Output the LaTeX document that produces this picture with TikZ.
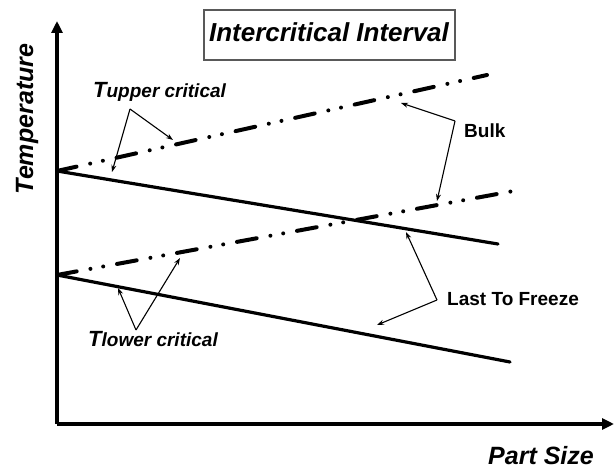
\documentclass[tikz,border=0pt]{standalone}
\usepackage{fontspec}
\setmainfont{Liberation Sans}
\usetikzlibrary{arrows.meta}
\tikzset{
  axisline/.style={line width=3.2pt, -{Triangle[length=12pt,width=11pt]}},
  solidline/.style={line width=3.2pt, line cap=round},
  dashdotline/.style={line width=4pt, line cap=round,
     dash pattern=on 20pt off 14pt on 0pt off 13pt on 0pt off 14pt},
  pointer/.style={line width=1.1pt, -{Stealth[length=7pt,width=5pt]}},
  lbl/.style={font=\bfseries\fontsize{19}{22}\selectfont, inner sep=0pt, anchor=base west},
  itlbl/.style={font=\bfseries\itshape, inner sep=0pt},
}
\begin{document}
\begin{tikzpicture}[x=1pt,y=-1pt]
\useasboundingbox (0,0) rectangle (614,470);
% axes
\coordinate (O) at (57,424);
\coordinate (ytip) at (57,21);
\coordinate (xtip) at (614,424);
\draw[axisline] (O) -- (ytip);
\draw[axisline] (O) -- (xtip);
% line end points
\coordinate (A) at (57,171);
\coordinate (B) at (57,275);
\coordinate (Asolid) at (498,244);
\coordinate (Adash) at (487,75);
\coordinate (Bsolid) at (510,362);
\coordinate (Bdash) at (519,190);
\draw[solidline] (A) -- (Asolid);
\draw[solidline] (B) -- (Bsolid);
\draw[dashdotline] (A) -- (Adash);
\draw[dashdotline] (B) -- (Bdash);
% title
\node[draw=black!65, line width=1.3pt, minimum width=251pt, minimum height=50pt, inner sep=0pt] (titlebox) at (329.5,35) {};
\node[itlbl, anchor=base, font=\bfseries\itshape\fontsize{26}{30}\selectfont] (title) at (329,42) {Intercritical Interval};
% axis labels
\node[itlbl, rotate=90, anchor=base, font=\bfseries\itshape\fontsize{25}{30}\selectfont] (ylabel) at (33,119) {Temperature};
\node[itlbl, anchor=base west, font=\bfseries\itshape\fontsize{25}{30}\selectfont] (xlabel) at (488,465) {Part Size};
% labels
\node[itlbl, anchor=base west] (tupper) at (93,98) {{\fontsize{22}{26}\selectfont T}{\fontsize{19}{22}\selectfont upper critical}};
\node[itlbl, anchor=base west] (tlower) at (88,347) {{\fontsize{22}{26}\selectfont T}{\fontsize{19}{22}\selectfont lower critical}};
\node[lbl] (bulk) at (464,138) {Bulk};
\node[lbl] (ltf) at (447,306) {Last To Freeze};
% pointer arrows
\coordinate (tu) at (130,109);
\coordinate (tu1) at (173,140);
\coordinate (tu2) at (112,172);
\draw[pointer] (tu) -- (tu1);
\draw[pointer] (tu) -- (tu2);
\coordinate (bk) at (455,121);
\coordinate (bk1) at (401,103);
\coordinate (bk2) at (437,201);
\draw[pointer] (bk) -- (bk1);
\draw[pointer] (bk) -- (bk2);
\coordinate (lf) at (437,300);
\coordinate (lf1) at (406,232);
\coordinate (lf2) at (377,325);
\draw[pointer] (lf) -- (lf1);
\draw[pointer] (lf) -- (lf2);
\coordinate (tl) at (136,330);
\coordinate (tl1) at (118,288);
\coordinate (tl2) at (180,258);
\draw[pointer] (tl) -- (tl1);
\draw[pointer] (tl) -- (tl2);
\end{tikzpicture}
\end{document}
